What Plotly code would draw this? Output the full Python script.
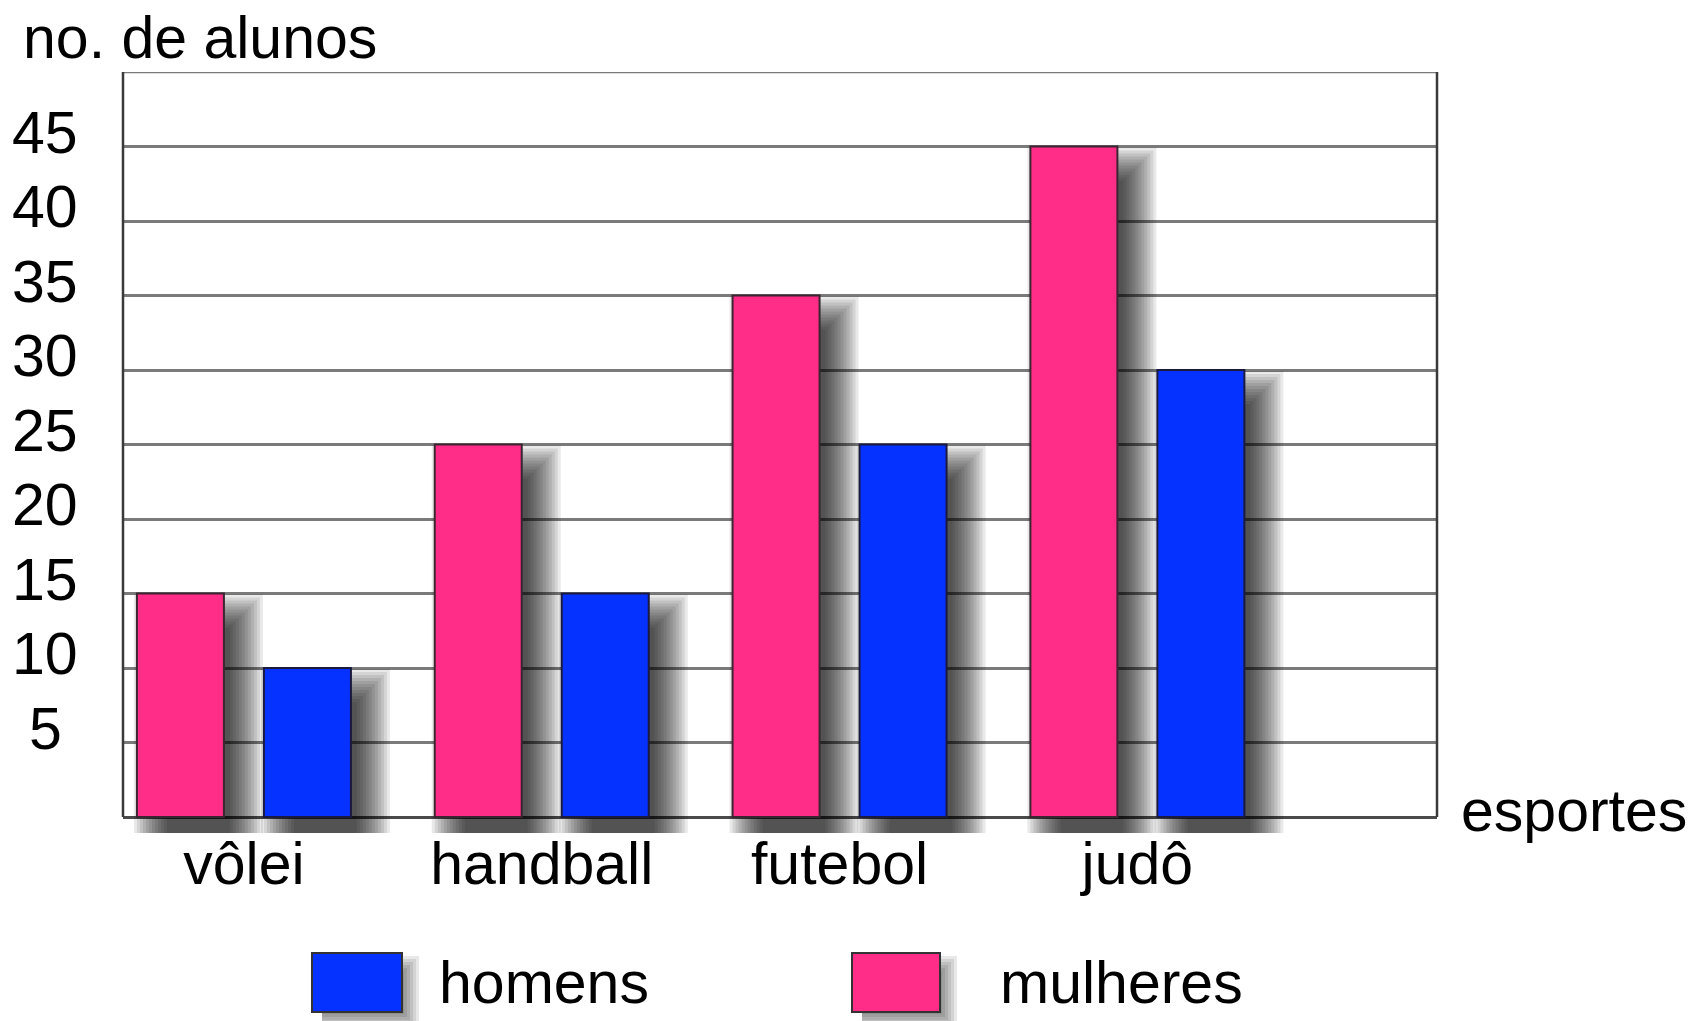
import plotly.graph_objects as go

# ---------------- data ----------------
categories = ["vôlei", "handball", "futebol", "judô"]
mulheres = [15, 25, 35, 45]
homens = [10, 15, 25, 30]
y_ticks = [5, 10, 15, 20, 25, 30, 35, 40, 45]
y_tick_labels = [str(v) for v in y_ticks]
y_max = 50
series_names = ["homens", "mulheres"]
y_title = "no. de alunos"
x_title = "esportes"

# ---------------- style / geometry ----------------
PINK = "#FF2D87"
BLUE = "#0632FF"
FONT = "Liberation Sans, Arial, sans-serif"
FS = 59

W, H = 1696, 1021
AXIS_PX = 817            # pixel row of value 0
L, R, T, B = 123, 259, 72, 188
PW = W - L - R
PH = H - T - B

X_RANGE = [-0.406, 4.006]
YU = (AXIS_PX - T) / y_max               # px per unit
Y_RANGE = [-(H - B - AXIS_PX) / YU, y_max]
XU = PW / (X_RANGE[1] - X_RANGE[0])      # px per category

BAR_W = 87 / XU
PINK_OFF = -107 / XU
BLUE_OFF = 20 / XU


def px_x(px):
    return (px - L) / PW


def px_y(py):
    return (H - B - py) / PH


def shadow_traces(values, off):
    traces = []
    dx, dy = 18, 22
    bottom = Y_RANGE[0]
    for e in range(-12, 22, 3):
        ex = e / XU
        ey = e / YU
        tops = [v - dy / YU + ey for v in values]
        traces.append(go.Bar(
            x=categories,
            y=[t - bottom for t in tops],
            base=[bottom] * len(values),
            offset=off + dx / XU - ex,
            width=BAR_W + 2 * ex,
            marker=dict(color="rgba(0,0,0,0.085)", line=dict(width=0)),
            hoverinfo="skip", showlegend=False,
        ))
    return traces


fig = go.Figure()
for tr in shadow_traces(mulheres, PINK_OFF) + shadow_traces(homens, BLUE_OFF):
    fig.add_trace(tr)

fig.add_trace(go.Bar(
    x=categories, y=mulheres, name=series_names[1],
    offset=PINK_OFF, width=BAR_W,
    marker=dict(color=PINK, line=dict(color="#3a2530", width=2)),
    showlegend=False,
))
fig.add_trace(go.Bar(
    x=categories, y=homens, name=series_names[0],
    offset=BLUE_OFF, width=BAR_W,
    marker=dict(color=BLUE, line=dict(color="#1a1a40", width=2)),
    showlegend=False,
))

shapes = []
annotations = []

# frame: left / right axis lines and top line
for xp in (0, 1):
    shapes.append(dict(type="line", xref="paper", yref="y", x0=xp, x1=xp,
                       y0=0, y1=y_max, line=dict(color="#3a3a3a", width=2.5),
                       layer="above"))
shapes.append(dict(type="line", xref="paper", yref="y", x0=0, x1=1,
                   y0=y_max, y1=y_max, line=dict(color="#7a7a7a", width=2.5),
                   layer="below"))

# custom legend (homens, mulheres)
legend_items = [
    (series_names[0], BLUE, 312, 402, 437),
    (series_names[1], PINK, 852, 940, 998),
]
for name, col, x0, x1, tx in legend_items:
    for e in range(-4, 12, 3):
        shapes.append(dict(
            type="rect", xref="paper", yref="paper",
            x0=px_x(x0 + 10), x1=px_x(x1 + 6 + e),
            y0=px_y(1012 + 6 + e), y1=px_y(953 + 14 - e),
            fillcolor="rgba(0,0,0,0.09)", line=dict(width=0), layer="above",
        ))
    shapes.append(dict(
        type="rect", xref="paper", yref="paper",
        x0=px_x(x0), x1=px_x(x1), y0=px_y(1012), y1=px_y(953),
        fillcolor=col, line=dict(color="#333333", width=2), layer="above",
    ))
    annotations.append(dict(
        text=name, xref="paper", yref="paper", x=px_x(tx), y=px_y(983),
        xanchor="left", yanchor="middle", showarrow=False,
        font=dict(family=FONT, size=FS, color="black"),
    ))

# y tick labels (centred, slightly above their gridline)
for v, lab in zip(y_ticks, y_tick_labels):
    annotations.append(dict(
        text=lab, xref="paper", yref="y", x=px_x(45), y=v, yshift=14,
        xanchor="center", yanchor="middle", showarrow=False,
        font=dict(family=FONT, size=FS, color="black"),
    ))

annotations.append(dict(
    text=y_title, xref="paper", yref="paper", x=px_x(21), y=px_y(38),
    xanchor="left", yanchor="middle", showarrow=False,
    font=dict(family=FONT, size=FS, color="black"),
))
annotations.append(dict(
    text=x_title, xref="paper", yref="y", x=px_x(1459), y=0, yshift=6,
    xanchor="left", yanchor="middle", showarrow=False,
    font=dict(family=FONT, size=FS, color="black"),
))

fig.update_layout(
    width=W, height=H,
    margin=dict(l=L, r=R, t=T, b=B, pad=0),
    paper_bgcolor="white", plot_bgcolor="white",
    barmode="overlay",
    showlegend=False,
    font=dict(family=FONT, size=FS, color="black"),
    shapes=shapes,
    annotations=annotations,
    xaxis=dict(
        range=X_RANGE, type="category", showgrid=False, showline=False,
        ticks="", tickfont=dict(family=FONT, size=FS, color="black"),
        ticklabelstandoff=-9, zeroline=False,
    ),
    yaxis=dict(
        range=Y_RANGE, tickvals=y_ticks, showticklabels=False,
        showgrid=True, gridcolor="#7a7a7a", gridwidth=2.5,
        showline=False, ticks="",
        zeroline=True, zerolinecolor="#4a4a4a", zerolinewidth=2.5,
    ),
)

fig.write_html(
    "out.html",
    config={"displayModeBar": False},
    post_script="document.body.style.margin='0';document.body.style.overflow='hidden';",
)
